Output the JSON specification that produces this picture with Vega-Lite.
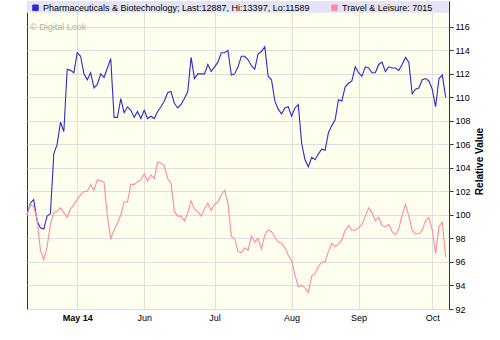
{
  "$schema": "https://vega.github.io/schema/vega-lite/v6.json",
  "width": 422,
  "height": 308,
  "autosize": {"type": "none"},
  "padding": {"left": 27, "top": 1, "right": 51, "bottom": 31},
  "background": "white",
  "config": {
    "font": "Liberation Sans",
    "view": {"fill": "#ffffee", "stroke": "#333333", "strokeWidth": 1}
  },
  "data": {"values": [
    {"i":0,"P":100.0,"T":100.0},{"i":1,"P":101.0,"T":100.9},{"i":2,"P":101.3,"T":100.7},{"i":3,"P":99.5,"T":99.7},
    {"i":4,"P":98.9,"T":97.0},{"i":5,"P":98.8,"T":96.2},{"i":6,"P":99.9,"T":97.3},{"i":7,"P":100.1,"T":99.2},
    {"i":8,"P":105.2,"T":100.2},{"i":9,"P":106.0,"T":100.3},{"i":10,"P":107.9,"T":100.6},{"i":11,"P":107.1,"T":100.2},
    {"i":12,"P":112.4,"T":99.8},{"i":13,"P":112.3,"T":100.5},{"i":14,"P":112.1,"T":100.9},{"i":15,"P":113.8,"T":101.3},
    {"i":16,"P":113.5,"T":101.7},{"i":17,"P":112.0,"T":102.0},{"i":18,"P":111.5,"T":102.0},{"i":19,"P":112.1,"T":102.6},
    {"i":20,"P":110.8,"T":102.1},{"i":21,"P":111.1,"T":103.0},{"i":22,"P":112.0,"T":102.9},{"i":23,"P":111.7,"T":102.8},
    {"i":24,"P":112.5,"T":99.9},{"i":25,"P":113.3,"T":98.0},{"i":26,"P":108.3,"T":98.7},{"i":27,"P":108.3,"T":99.3},
    {"i":28,"P":109.9,"T":100.0},{"i":29,"P":108.7,"T":101.1},{"i":30,"P":109.2,"T":101.1},{"i":31,"P":108.9,"T":102.6},
    {"i":32,"P":108.3,"T":102.6},{"i":33,"P":108.8,"T":102.8},{"i":34,"P":108.2,"T":103.0},{"i":35,"P":108.9,"T":103.5},
    {"i":36,"P":108.2,"T":102.9},{"i":37,"P":108.4,"T":103.4},{"i":38,"P":108.2,"T":103.1},{"i":39,"P":108.8,"T":104.5},
    {"i":40,"P":109.2,"T":104.4},{"i":41,"P":109.7,"T":104.2},{"i":42,"P":110.4,"T":103.1},{"i":43,"P":110.5,"T":102.7},
    {"i":44,"P":109.5,"T":100.3},{"i":45,"P":109.1,"T":99.9},{"i":46,"P":109.4,"T":99.9},{"i":47,"P":109.9,"T":99.5},
    {"i":48,"P":110.5,"T":100.2},{"i":49,"P":113.4,"T":101.2},{"i":50,"P":111.6,"T":100.5},{"i":51,"P":112.0,"T":100.3},
    {"i":52,"P":112.0,"T":99.9},{"i":53,"P":112.0,"T":100.5},{"i":54,"P":112.8,"T":101.0},{"i":55,"P":112.2,"T":100.4},
    {"i":56,"P":112.6,"T":100.9},{"i":57,"P":113.0,"T":101.1},{"i":58,"P":113.8,"T":101.7},{"i":59,"P":113.8,"T":102.1},
    {"i":60,"P":114.0,"T":101.0},{"i":61,"P":111.9,"T":98.2},{"i":62,"P":112.0,"T":98.0},{"i":63,"P":112.6,"T":96.9},
    {"i":64,"P":113.5,"T":96.8},{"i":65,"P":113.5,"T":97.2},{"i":66,"P":113.2,"T":97.0},{"i":67,"P":112.7,"T":98.2},
    {"i":68,"P":112.4,"T":97.7},{"i":69,"P":113.7,"T":98.0},{"i":70,"P":113.9,"T":97.1},{"i":71,"P":114.3,"T":98.3},
    {"i":72,"P":111.8,"T":98.7},{"i":73,"P":111.5,"T":98.6},{"i":74,"P":109.7,"T":98.1},{"i":75,"P":109.0,"T":97.7},
    {"i":76,"P":108.6,"T":97.6},{"i":77,"P":109.1,"T":97.2},{"i":78,"P":109.2,"T":96.6},{"i":79,"P":108.4,"T":96.1},
    {"i":80,"P":109.1,"T":94.9},{"i":81,"P":109.4,"T":93.9},{"i":82,"P":106.1,"T":94.0},{"i":83,"P":104.7,"T":93.8},
    {"i":84,"P":104.1,"T":93.4},{"i":85,"P":104.9,"T":94.8},{"i":86,"P":104.7,"T":95.0},{"i":87,"P":105.2,"T":95.6},
    {"i":88,"P":105.6,"T":96.0},{"i":89,"P":105.5,"T":96.0},{"i":90,"P":107.0,"T":96.9},{"i":91,"P":107.6,"T":97.6},
    {"i":92,"P":108.1,"T":97.3},{"i":93,"P":109.8,"T":97.5},{"i":94,"P":109.7,"T":97.9},{"i":95,"P":110.9,"T":98.7},
    {"i":96,"P":111.2,"T":99.1},{"i":97,"P":111.4,"T":98.7},{"i":98,"P":112.6,"T":98.7},{"i":99,"P":112.1,"T":98.9},
    {"i":100,"P":111.8,"T":99.2},{"i":101,"P":112.6,"T":99.9},{"i":102,"P":112.5,"T":100.6},{"i":103,"P":112.1,"T":100.2},
    {"i":104,"P":112.1,"T":99.5},{"i":105,"P":112.8,"T":99.8},{"i":106,"P":113.0,"T":99.1},{"i":107,"P":112.2,"T":99.0},
    {"i":108,"P":112.6,"T":99.2},{"i":109,"P":112.5,"T":98.6},{"i":110,"P":112.5,"T":98.3},{"i":111,"P":112.3,"T":98.8},
    {"i":112,"P":112.8,"T":100.0},{"i":113,"P":113.4,"T":100.9},{"i":114,"P":113.0,"T":99.9},{"i":115,"P":110.3,"T":98.7},
    {"i":116,"P":110.7,"T":98.4},{"i":117,"P":110.8,"T":98.4},{"i":118,"P":111.5,"T":98.7},{"i":119,"P":111.6,"T":99.5},
    {"i":120,"P":111.4,"T":99.8},{"i":121,"P":110.7,"T":98.7},{"i":122,"P":109.2,"T":96.7},{"i":123,"P":111.6,"T":99.0},
    {"i":124,"P":111.9,"T":99.4},{"i":125,"P":110.0,"T":96.4}
  ]},
  "layer": [
    {
      "data": {"values": [{}]},
      "mark": {"type": "rect", "fill": "#e4e4f6"},
      "encoding": {
        "x": {"datum": 0, "type": "quantitative"},
        "x2": {"datum": 126},
        "y": {"datum": 117.2, "type": "quantitative"},
        "y2": {"datum": 118.2}
      }
    },
    {
      "data": {"values": [{}]},
      "mark": {"type": "text", "text": "© Digital Look", "align": "left", "baseline": "middle", "fontSize": 9, "color": "#b0b0b0", "dx": 3},
      "encoding": {
        "x": {"datum": 0, "type": "quantitative"},
        "y": {"datum": 116, "type": "quantitative"}
      }
    },
    {
      "transform": [{"fold": ["P", "T"], "as": ["series", "value"]}],
      "mark": {"type": "line", "strokeWidth": 1.1, "interpolate": "linear"},
      "encoding": {
        "x": {
          "field": "i", "type": "quantitative",
          "scale": {"domain": [0, 126], "nice": false, "zero": false},
          "axis": {
            "title": null, "values": [15, 35, 56, 79, 99, 121], "tickCount": 20,
            "labelExpr": "datum.value == 15 ? 'May 14' : datum.value == 35 ? 'Jun' : datum.value == 56 ? 'Jul' : datum.value == 79 ? 'Aug' : datum.value == 99 ? 'Sep' : 'Oct'",
            "labelFontWeight": {"condition": {"test": "datum.value == 15", "value": "bold"}, "value": "normal"},
            "labelFontSize": 9, "labelColor": "#000000", "labelPadding": 4,
            "ticks": false, "domain": false, "grid": true, "gridColor": "#dedede"
          }
        },
        "y": {
          "field": "value", "type": "quantitative",
          "scale": {"domain": [92, 118.2], "nice": false, "zero": false},
          "axis": {
            "orient": "right", "title": "Relative Value",
            "values": [92, 94, 96, 98, 100, 102, 104, 106, 108, 110, 112, 114, 116],
            "tickCount": 30,
            "labelOverlap": false, "labelBound": false,
            "labelFontSize": 9, "labelColor": "#000000", "labelPadding": 2,
            "tickSize": 4, "tickColor": "#333333", "domain": false,
            "grid": true, "gridColor": "#dedede",
            "titleFontSize": 10, "titleFontWeight": "bold", "titleColor": "#000000",
            "titleAngle": 270, "titleBaseline": "top", "titlePadding": 4, "titleY": 160
          }
        },
        "color": {
          "field": "series", "type": "nominal",
          "scale": {"domain": ["P", "T"], "range": ["#2b2bd2", "#ff88aa"]},
          "legend": {
            "orient": "none", "legendX": 4, "legendY": 2, "direction": "horizontal",
            "title": null, "symbolType": "square", "symbolSize": 30,
            "labelFontSize": 9, "labelColor": "#000000", "labelOffset": 3, "labelLimit": 0,
            "columnPadding": 19, "padding": 0,
            "labelExpr": "datum.label == 'P' ? 'Pharmaceuticals & Biotechnology; Last:12887, Hi:13397, Lo:11589' : 'Travel & Leisure: 7015'",
            "encode": {
              "symbols": {"update": {
                "fill": {"scale": "color", "field": "value"},
                "stroke": {"value": "#000000"},
                "strokeWidth": {"value": 1},
                "opacity": {"value": 1}
              }}
            }
          }
        }
      }
    }
  ]
}
